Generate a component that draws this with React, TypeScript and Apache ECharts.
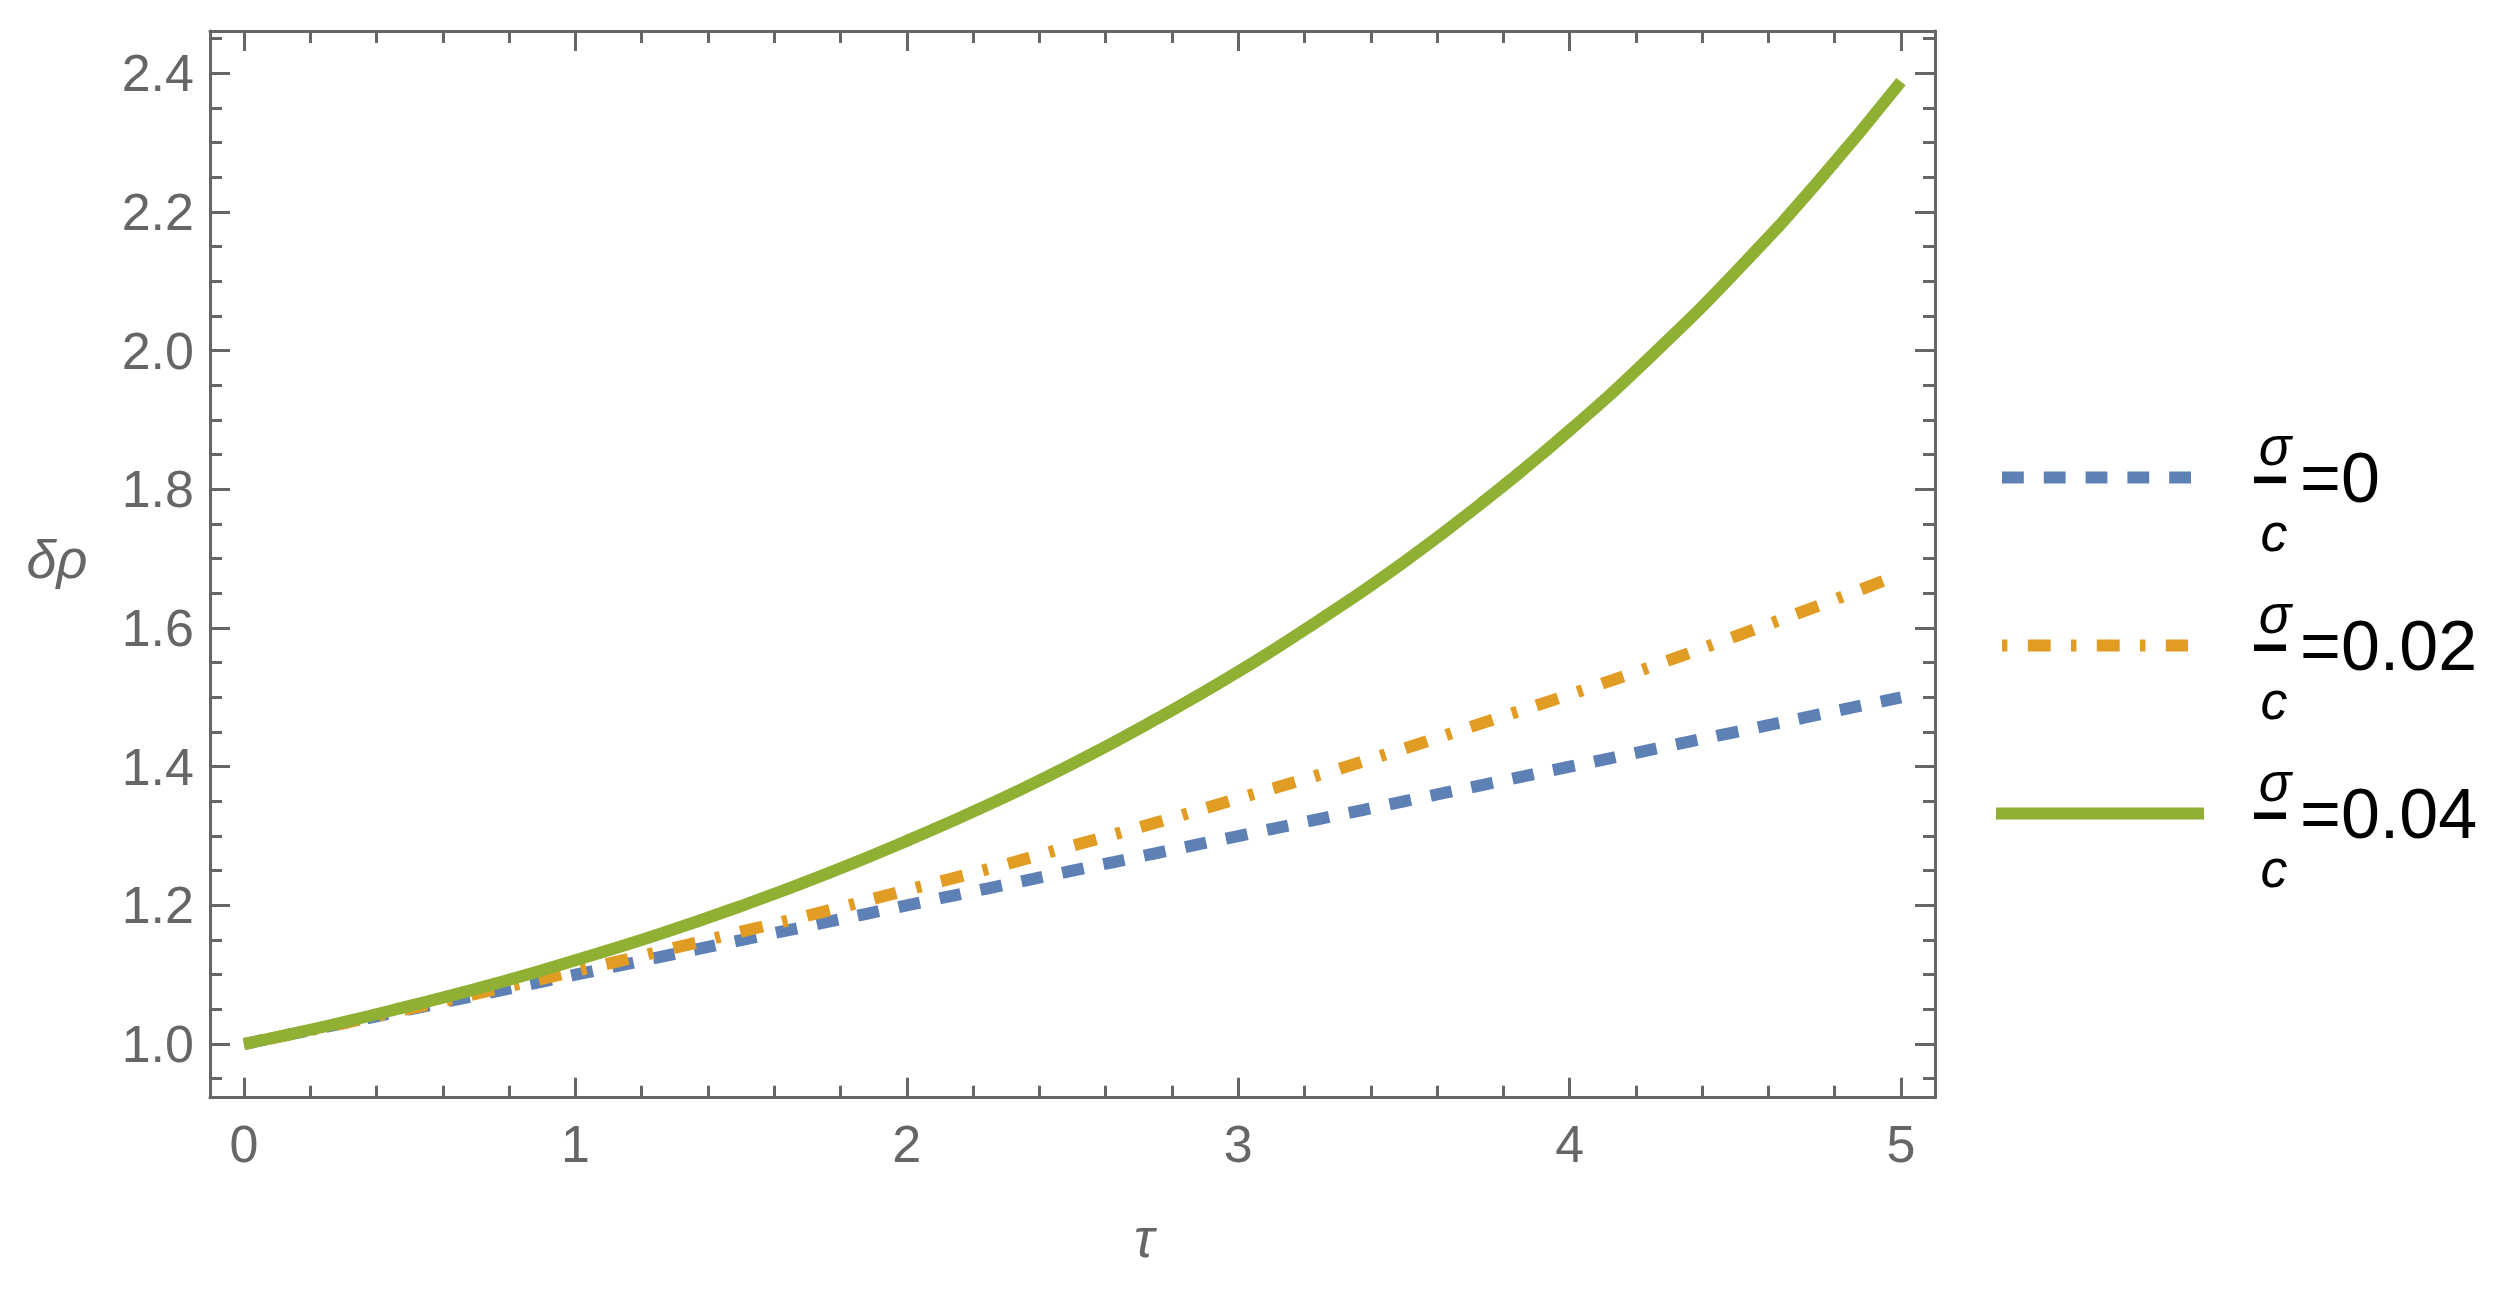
import React, { useEffect, useRef } from "react";
import * as echarts from "echarts";

// ---- data ----
const tau = [0, 0.25, 0.5, 0.75, 1, 1.25, 1.5, 1.75, 2, 2.25, 2.5, 2.75, 3, 3.25, 3.5, 3.75, 4, 4.25, 4.5, 4.75, 5];
const rhoSigma0 = [1.0, 1.025, 1.05, 1.075, 1.1, 1.125, 1.15, 1.175, 1.2, 1.225, 1.25, 1.275, 1.3, 1.325, 1.35, 1.375, 1.4, 1.425, 1.45, 1.475, 1.5];
const rhoSigma002 = [1.0, 1.025, 1.051, 1.078, 1.105, 1.133, 1.162, 1.191, 1.222, 1.253, 1.286, 1.319, 1.354, 1.389, 1.426, 1.465, 1.504, 1.545, 1.588, 1.632, 1.678];
const rhoSigma004 = [1.0, 1.026, 1.055, 1.086, 1.121, 1.158, 1.199, 1.244, 1.293, 1.346, 1.404, 1.468, 1.537, 1.613, 1.695, 1.786, 1.885, 1.994, 2.113, 2.244, 2.388];

const legendValues = ["0", "0.02", "0.04"];
const xMajorTicks = [0, 1, 2, 3, 4, 5];
const xMinorTicks = [0.2, 0.4, 0.6, 0.8, 1.2, 1.4, 1.6, 1.8, 2.2, 2.4, 2.6, 2.8, 3.2, 3.4, 3.6, 3.8, 4.2, 4.4, 4.6, 4.8];
const yMajorTicks = [1.0, 1.2, 1.4, 1.6, 1.8, 2.0, 2.2, 2.4];
const yMinorTicks = [0.95, 1.05, 1.1, 1.15, 1.25, 1.3, 1.35, 1.45, 1.5, 1.55, 1.65, 1.7, 1.75, 1.85, 1.9, 1.95, 2.05, 2.1, 2.15, 2.25, 2.3, 2.35, 2.45];

const X_MIN = -0.1026;
const X_MAX = 5.1026;
const Y_MIN = 0.9226;
const Y_MAX = 2.461;

const AX = "#666666";
const FONT = '"Liberation Sans", Arial, sans-serif';
const COLORS = ["#5E81B5", "#E19C24", "#8FB032"];
const DASHES: (number[] | null)[] = [[21.8, 20], [5.4, 20.4, 22.9, 20.3], null];

function mkAxis(kind: "x" | "y", position: string, ticks: number[], len: number, line: boolean, labels: boolean) {
  const isX = kind === "x";
  return {
    type: "value",
    position,
    min: isX ? X_MIN : Y_MIN,
    max: isX ? X_MAX : Y_MAX,
    axisLine: { show: line, onZero: false, lineStyle: { color: AX, width: 3 } },
    axisTick: { show: true, inside: true, length: len, customValues: ticks, lineStyle: { color: AX, width: 3 } },
    axisLabel: labels
      ? {
          show: true,
          customValues: ticks,
          margin: isX ? 20 : 16,
          fontSize: 52,
          color: AX,
          fontFamily: FONT,
          formatter: (v: number) => (isX ? String(Math.round(v)) : v.toFixed(1)),
        }
      : { show: false },
    splitLine: { show: false },
    minorTick: { show: false },
    z: 5,
  };
}

export default function App() {
  const ref = useRef<HTMLDivElement>(null);

  useEffect(() => {
    if (!ref.current) return;
    const chart = echarts.init(ref.current, null, { renderer: "svg" });

    const seriesData = [rhoSigma0, rhoSigma002, rhoSigma004];

    const legendGraphics: any[] = [];
    const rowY = [477.6, 645.5, 813.5];
    const lineX1 = [2002, 2002, 1996];
    const lineX2 = [2194, 2188, 2204];
    legendValues.forEach((val, i) => {
      const cy = rowY[i];
      legendGraphics.push({
        type: "line",
        shape: { x1: lineX1[i], y1: cy, x2: lineX2[i], y2: cy },
        style: {
          stroke: COLORS[i],
          lineWidth: 12,
          lineDash: DASHES[i] || undefined,
          lineCap: "butt",
        },
      });
      legendGraphics.push({
        type: "text",
        x: 2275,
        y: cy - 32,
        style: { text: "σ", font: `italic 54px ${FONT}`, fill: "#000", textAlign: "center", textVerticalAlign: "middle" },
      });
      legendGraphics.push({
        type: "rect",
        shape: { x: 2254, y: cy - 1, width: 32, height: 6.5 },
        style: { fill: "#000" },
      });
      legendGraphics.push({
        type: "text",
        x: 2274,
        y: cy + 54,
        style: { text: "c", font: `italic 54px ${FONT}`, fill: "#000", textAlign: "center", textVerticalAlign: "middle" },
      });
      legendGraphics.push({
        type: "text",
        x: 2300,
        y: cy,
        style: { text: "=" + val, font: `70px ${FONT}`, fill: "#000", textAlign: "left", textVerticalAlign: "middle" },
      });
    });

    chart.setOption({
      animation: false,
      backgroundColor: "#ffffff",
      grid: {
        left: 210,
        top: 31,
        right: 2513 - 1935,
        bottom: 1299 - 1097.7,
        containLabel: false,
        outerBoundsMode: "none",
      },
      xAxis: [
        mkAxis("x", "bottom", xMajorTicks, 20, true, true),
        mkAxis("x", "bottom", xMinorTicks, 12, false, false),
        mkAxis("x", "top", xMajorTicks, 20, true, false),
        mkAxis("x", "top", xMinorTicks, 12, false, false),
      ],
      yAxis: [
        mkAxis("y", "left", yMajorTicks, 20, true, true),
        mkAxis("y", "left", yMinorTicks, 12, false, false),
        mkAxis("y", "right", yMajorTicks, 20, true, false),
        mkAxis("y", "right", yMinorTicks, 12, false, false),
      ],
      series: seriesData.map((vals, i) => ({
        type: "line",
        name: "σ/c=" + legendValues[i],
        xAxisIndex: 0,
        yAxisIndex: 0,
        data: tau.map((t, k) => [t, vals[k]]),
        showSymbol: false,
        symbol: "none",
        smooth: true,
        lineStyle: {
          color: COLORS[i],
          width: 12,
          type: DASHES[i] || "solid",
          cap: "butt",
          join: "round",
        },
        z: 2 + i,
      })),
      graphic: [
        {
          type: "text",
          x: 57,
          y: 559,
          style: { text: "δρ", font: `italic 54px ${FONT}`, fill: AX, textAlign: "center", textVerticalAlign: "middle" },
        },
        {
          type: "text",
          x: 1144,
          y: 1238,
          style: { text: "τ", font: `italic 54px ${FONT}`, fill: AX, textAlign: "center", textVerticalAlign: "middle" },
        },
        ...legendGraphics,
      ],
    });

    return () => {
      chart.dispose();
    };
  }, []);

  return (
    <div
      ref={ref}
      style={{ position: "absolute", left: 0, top: 0, width: 2513, height: 1299, background: "#fff" }}
    />
  );
}
